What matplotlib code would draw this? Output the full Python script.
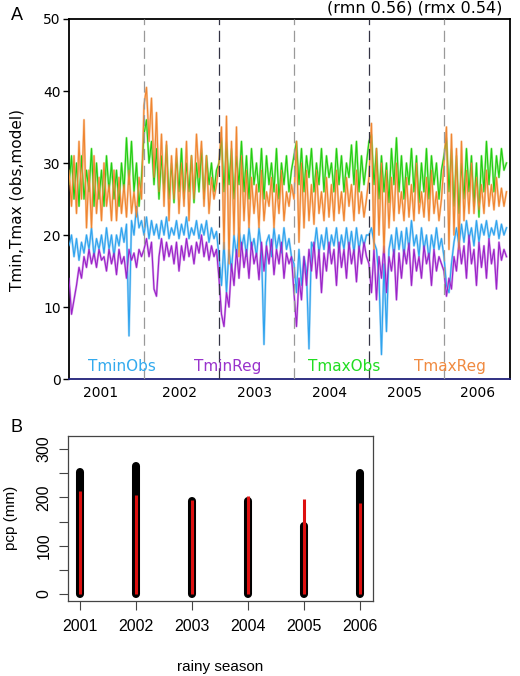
import numpy as np
import matplotlib
matplotlib.use("Agg")
import matplotlib.pyplot as plt

# ---------------- Panel A data (daily-ish temperatures) ----------------
season_labels = ["2001", "2002", "2003", "2004", "2005", "2006"]
season_label_pos = [0.42, 1.47, 2.47, 3.47, 4.48, 5.45]
season_bounds = [1, 2, 3, 4, 5]

tmax_reg = [
    [29, 24, 31, 23, 33, 25, 36, 21, 29, 21, 31, 23, 28, 22, 30, 24, 27, 22, 29, 22, 28, 23, 27, 22.5, 29, 23, 26, 22.5, 28, 25],
    [38, 40.5, 33, 39, 28, 37, 26, 34, 24, 33, 22, 31, 25, 32, 23, 30, 24, 33, 22, 31, 25, 34, 28, 33, 24, 31, 23, 28, 25, 27],
    [30, 35, 18, 36.5, 16, 33, 20, 35, 17, 31, 22, 29, 21, 28, 23, 27, 21, 29, 22, 26, 24, 28, 21, 27, 23, 29, 22, 26, 24, 27],
    [25, 33, 19, 30, 21, 29, 22, 27, 21.5, 29, 23, 26, 22, 28, 22.5, 27, 22, 29, 23, 26, 22, 28, 24, 27, 22, 29, 23, 26, 22.5, 25],
    [28, 35.5, 18, 32, 20, 30, 17.5, 29, 21, 28, 22, 30, 23, 26, 22, 28, 22.5, 27, 22, 30, 23, 26, 22.5, 28, 22, 29, 23, 26, 22, 25],
    [30, 35, 18, 34, 20, 32, 18, 33, 22, 29, 23, 30, 23, 28, 23.5, 27, 23, 29, 24, 27, 23.5, 28, 24, 26.5, 24, 26],
]
tmax_obs = [
    [27, 31, 25, 30, 24, 31, 25, 29, 26, 32, 24, 30, 25, 29, 24, 31, 26, 30, 25, 29, 24, 30, 26, 33.5, 27, 33, 26, 30, 24, 28],
    [34, 36, 30, 33, 27, 32, 25, 31, 26, 32.5, 25, 30, 24.5, 31, 26, 32, 25, 30, 26, 31, 24.5, 30, 26, 32, 25, 31, 27, 30, 26, 29],
    [30, 33.5, 26, 33, 27, 32, 25, 31, 27, 33, 26, 31, 25, 32, 27, 30, 26, 32, 25, 31, 27, 30, 26, 32, 25, 30, 27, 31, 26, 29],
    [31, 33, 27, 32, 26, 31, 28, 32, 26, 30, 27, 32, 26, 31, 28, 30, 26, 32, 27, 31, 26, 30, 28, 32.5, 27, 33, 26, 31, 27, 30],
    [33, 34, 27, 32, 25, 31, 26, 30, 24.5, 32, 27, 33.5, 26, 31, 25, 30, 27, 32, 26, 31, 24.5, 30, 26, 32, 25, 31, 27, 30, 25, 29],
    [31, 33.5, 26, 32, 24, 31, 23, 30, 25, 32, 26, 31, 24, 30, 22.5, 31, 26, 33, 27, 32, 26, 31, 28, 32, 29, 30],
]
tmin_obs = [
    [18.5, 20, 17, 19.5, 16.5, 19, 17.5, 20, 18, 21, 17, 19.5, 18, 20, 17.5, 21, 18, 20, 17, 20, 18.5, 21, 19, 21.5, 6, 22, 20, 24, 21, 22],
    [20, 22.5, 19.5, 22, 20, 21.5, 19.5, 22, 20, 22.5, 19.5, 21, 20, 22, 19.5, 21.5, 20, 22.5, 19.5, 21, 20, 22, 19.5, 21.5, 20, 22, 19, 21, 19.5, 20.5],
    [17, 13, 19, 12, 18, 15, 20, 17, 21, 18, 20, 17, 21, 18, 19.5, 17, 21, 18, 4.8, 19, 20, 17, 21, 18, 20, 17.5, 21, 18, 19.5, 17],
    [16, 12, 18, 13, 17, 15, 4.2, 19, 18, 21, 17.5, 20, 18, 21, 17.5, 20, 18.5, 21, 17.5, 20, 18, 21, 18, 20.5, 17.5, 21, 18, 20, 18.5, 20],
    [20, 21, 19, 18, 14, 3.4, 16, 6.6, 18, 20, 17, 21, 18, 20.5, 17, 21, 18, 22, 18.5, 20, 17, 21, 18, 20, 16.6, 20, 18, 21, 18, 19.5],
    [17, 13, 12, 16, 19, 21, 18.5, 21.5, 19, 22, 19.5, 21, 18.5, 22, 19, 21.5, 20, 22, 19.5, 21, 20, 22, 19.5, 21.5, 20, 21],
]
tmin_reg = [
    [14, 9, 11, 13, 15.5, 14, 17, 15.5, 18, 16, 17.5, 15.5, 18, 16.5, 17, 15, 18, 16, 17.5, 14.5, 18, 16, 17, 14, 18, 16.5, 17.5, 15.5, 18, 17],
    [18, 19.5, 17, 19, 12.5, 11.5, 17, 19.5, 16.5, 19, 17, 18.5, 16, 19, 15, 18.5, 16.5, 19.5, 17, 18.5, 16, 19, 17.5, 20, 17, 19, 16.5, 18.5, 17, 18],
    [14, 9, 7.3, 12, 10, 16, 13, 18, 14, 19, 15.5, 18, 14, 19, 16, 17.5, 13.8, 19, 15, 18.5, 16, 19.4, 14.5, 18, 16, 19, 14, 17.5, 16, 17],
    [12, 7.3, 14, 11, 17, 13, 18, 15, 19, 14, 18, 12, 17.5, 15, 19, 16, 18, 13, 19, 15.5, 18, 14, 19, 16, 18, 13.5, 18.5, 16, 19, 17],
    [16, 12, 18, 11, 17, 14, 18.5, 12, 17, 15, 18, 11, 17.5, 14, 18, 16, 18.9, 13, 18, 15, 17, 14, 18.5, 16, 17.5, 13, 18, 15, 17, 16],
    [15, 11.5, 14, 12.5, 17, 15, 19, 16, 18.5, 14, 20, 16, 18, 13, 19, 15.5, 18.5, 14, 19.5, 16, 18, 12.5, 19, 16.5, 18, 17],
]
series_names = ["TminObs", "TminReg", "TmaxObs", "TmaxReg"]

# ---------------- Panel B data ----------------
years = [2001, 2002, 2003, 2004, 2005, 2006]
pcp_black = [252, 264, 193, 192, 140, 251]
pcp_red = [214, 205, 195, 203, 196, 188]

# ---------------- Figure ----------------
fig = plt.figure(figsize=(5.2, 6.76), dpi=100)

ax1 = fig.add_axes([0.1327, 0.4393, 0.848, 0.5326])


def season_x(seasons):
    xs, ys = [], []
    for k, vals in enumerate(seasons):
        xs.extend(k + np.arange(len(vals)) / 30.0)
        ys.extend(vals)
    return np.array(xs), np.array(ys)


styles = [
    (tmin_obs, "#2ea3ee", "#a6d6f6"),
    (tmin_reg, "#9a22c8", "#d7a2ea"),
    (tmax_obs, "#22cc11", "#a2ee92"),
    (tmax_reg, "#f08530", "#f8c8a0"),
]
for data, dark, light in styles:
    x, y = season_x(data)
    ax1.plot(x, y, color=light, lw=1.6, zorder=2)
    ax1.plot(x, y, color=dark, lw=0.8, zorder=3)

for i, b in enumerate(season_bounds):
    col = "#999999" if i % 2 == 0 else "#333344"
    ax1.axvline(b, color=col, lw=0.9, dashes=(9, 4.5), zorder=4)

ax1.set_xlim(0, 5.88)
ax1.set_ylim(0, 50)
ax1.set_yticks([0, 10, 20, 30, 40, 50])
ax1.tick_params(axis="y", length=4, width=1, labelsize=10, pad=2)
ax1.set_xticks(season_label_pos)
ax1.set_xticklabels(season_labels)
ax1.tick_params(axis="x", length=0, labelsize=10, pad=5)
for s in ["left", "top", "right"]:
    ax1.spines[s].set_linewidth(1.3)
    ax1.spines[s].set_color("black")
ax1.spines["bottom"].set_color("#20207a")
ax1.spines["bottom"].set_linewidth(1.3)

legend_cols = ["#33aaee", "#9933cc", "#22dd22", "#f08a40"]
legend_pos = [0.119, 0.359, 0.625, 0.864]
for name, c, px in zip(series_names, legend_cols, legend_pos):
    ax1.text(px, 0.036, name, color=c, fontsize=11, ha="center", va="center",
             transform=ax1.transAxes, zorder=5)

fig.text(17 / 520, 1 - 200 / 676, "Tmin,Tmax (obs,model)", rotation=90,
         ha="center", va="center", fontsize=11)
fig.text(502 / 520, 1 - 8 / 676, "(rmn 0.56) (rmx 0.54)", ha="right", va="center",
         fontsize=11.5)
fig.text(17 / 520, 1 - 15 / 676, "A", ha="center", va="center", fontsize=13,
         family="Liberation Sans")

# ---------------- Panel B ----------------
ax2 = fig.add_axes([0.1308, 0.111, 0.5865, 0.244])
for yr, hb, hr in zip(years, pcp_black, pcp_red):
    ax2.plot([yr, yr], [0, hb], color="black", lw=5.8, solid_capstyle="round", zorder=2)
    ax2.plot([yr, yr], [0, hr], color="#dd1010", lw=2.2, solid_capstyle="butt", zorder=3)

ax2.set_xlim(2000.786, 2006.23)
ax2.set_ylim(-14.5, 327)
ax2.set_xticks(years)
ax2.set_xticklabels([str(y) for y in years])
ax2.set_yticks([0, 50, 100, 150, 200, 250, 300])
ax2.set_yticklabels(["0", "", "100", "", "200", "", "300"], rotation=90, va="center")
for lab in ax2.get_xticklabels() + ax2.get_yticklabels():
    lab.set_family("Liberation Sans")
ax2.tick_params(axis="both", labelsize=11.5, length=6.5, width=0.8, color="#444444")
ax2.tick_params(axis="x", pad=6.5)
ax2.tick_params(axis="y", pad=5.5)
for s in ax2.spines.values():
    s.set_color("#444444")
    s.set_linewidth(0.9)

fig.text(220 / 520, 1 - 667 / 676, "rainy season", ha="center", va="center",
         fontsize=11, family="Liberation Sans")
fig.text(11 / 520, 1 - 518 / 676, "pcp (mm)", rotation=90, ha="center", va="center",
         fontsize=11, family="Liberation Sans")
fig.text(17 / 520, 1 - 428 / 676, "B", ha="center", va="center", fontsize=13,
         family="Liberation Sans")

fig.savefig("out.png", dpi=100)
